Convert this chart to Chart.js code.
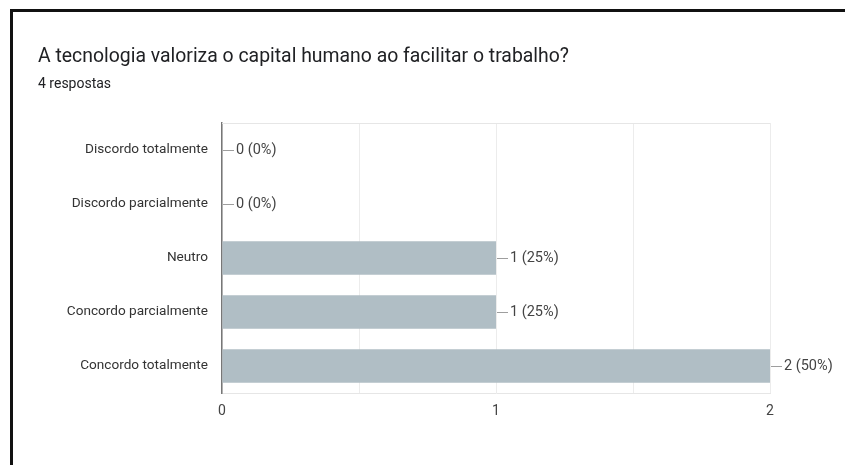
<!DOCTYPE html>
<html>
<head>
<meta charset="utf-8">
<script src="https://cdn.jsdelivr.net/npm/chart.js@4.4.0/dist/chart.umd.min.js"></script>
<style>
  html, body { margin: 0; padding: 0; background: #fff; }
  #wrap { position: relative; width: 845px; height: 465px; overflow: hidden; }
  #frame {
    position: absolute; left: 10px; top: 9px; right: 0; bottom: 0;
    border-top: 3px solid #111; border-left: 3px solid #111;
    pointer-events: none;
  }
</style>
</head>
<body>
<div id="wrap">
  <canvas id="grafico" width="845" height="465"></canvas>
  <div id="frame"></div>
</div>
<script>
const categorias = ['Discordo totalmente', 'Discordo parcialmente', 'Neutro', 'Concordo parcialmente', 'Concordo totalmente'];
const respostas = [0, 0, 1, 1, 2];
const percentuais = [0, 0, 25, 25, 50];
const ticksX = [0, 1, 2];

const titulo = 'A tecnologia valoriza o capital humano ao facilitar o trabalho?';
const subtitulo = '4 respostas';

// rótulos "n (p%)" com um tracinho saindo do fim da barra
const rotulosPlugin = {
  id: 'rotulos',
  beforeDatasetsDraw(chart) {
    const { ctx, chartArea } = chart;
    ctx.save();
    ctx.strokeStyle = '#e6e6e6';
    ctx.lineWidth = 1;
    ctx.beginPath();
    ctx.moveTo(chartArea.left, chartArea.top + 0.5);
    ctx.lineTo(chartArea.right, chartArea.top + 0.5);
    ctx.stroke();
    ctx.restore();
  },
  afterDatasetsDraw(chart) {
    const { ctx } = chart;
    const meta = chart.getDatasetMeta(0);
    ctx.save();
    ctx.font = '14.5px Roboto';
    ctx.fillStyle = '#444';
    ctx.textBaseline = 'middle';
    meta.data.forEach((bar, i) => {
      const x = bar.x;
      const y = Math.round(bar.y) + 0.5;
      ctx.strokeStyle = '#9e9e9e';
      ctx.lineWidth = 1;
      ctx.beginPath();
      ctx.moveTo(x + 1, y);
      ctx.lineTo(x + 12, y);
      ctx.stroke();
      ctx.fillText(respostas[i] + ' (' + percentuais[i] + '%)', x + 14, bar.y);
    });
    ctx.restore();
  }
};

new Chart(document.getElementById('grafico'), {
  type: 'bar',
  data: {
    labels: categorias,
    datasets: [{
      data: respostas,
      backgroundColor: '#b0bec5',
      borderWidth: 0,
      barPercentage: 0.9,
      categoryPercentage: 0.69
    }]
  },
  options: {
    indexAxis: 'y',
    responsive: false,
    animation: false,
    layout: { padding: { left: 38, right: 75, top: 12, bottom: 0 } },
    plugins: {
      legend: { display: false },
      tooltip: { enabled: false },
      title: {
        display: true,
        text: titulo,
        align: 'start',
        color: '#202124',
        font: { family: 'Roboto', size: 19.4, weight: 'normal' },
        padding: { top: 33.4, bottom: 0 }
      },
      subtitle: {
        display: true,
        text: subtitulo,
        align: 'start',
        color: '#202124',
        font: { family: 'Roboto', size: 14 },
        padding: { top: 7.9, bottom: 29.6 }
      }
    },
    scales: {
      x: {
        min: 0,
        max: 2,
        afterBuildTicks(scale) {
          scale.ticks = [0, 0.5, 1, 1.5, 2].map(v => ({ value: v }));
        },
        afterFit(scale) { scale.height = 72; },
        ticks: {
          padding: 10,
          color: '#444',
          font: { family: 'Roboto', size: 14 },
          callback: v => ticksX.includes(v) ? String(v) : ''
        },
        grid: { color: '#ececec', drawTicks: false },
        border: { color: '#e6e6e6' }
      },
      y: {
        afterFit(scale) { scale.width = 222 - 38; },
        ticks: {
          padding: 14,
          color: '#333',
          font: { family: 'Roboto', size: 13.6 }
        },
        grid: { display: false, drawTicks: false },
        border: { color: '#777', width: 1.5 }
      }
    }
  },
  plugins: [rotulosPlugin]
});
</script>
</body>
</html>
